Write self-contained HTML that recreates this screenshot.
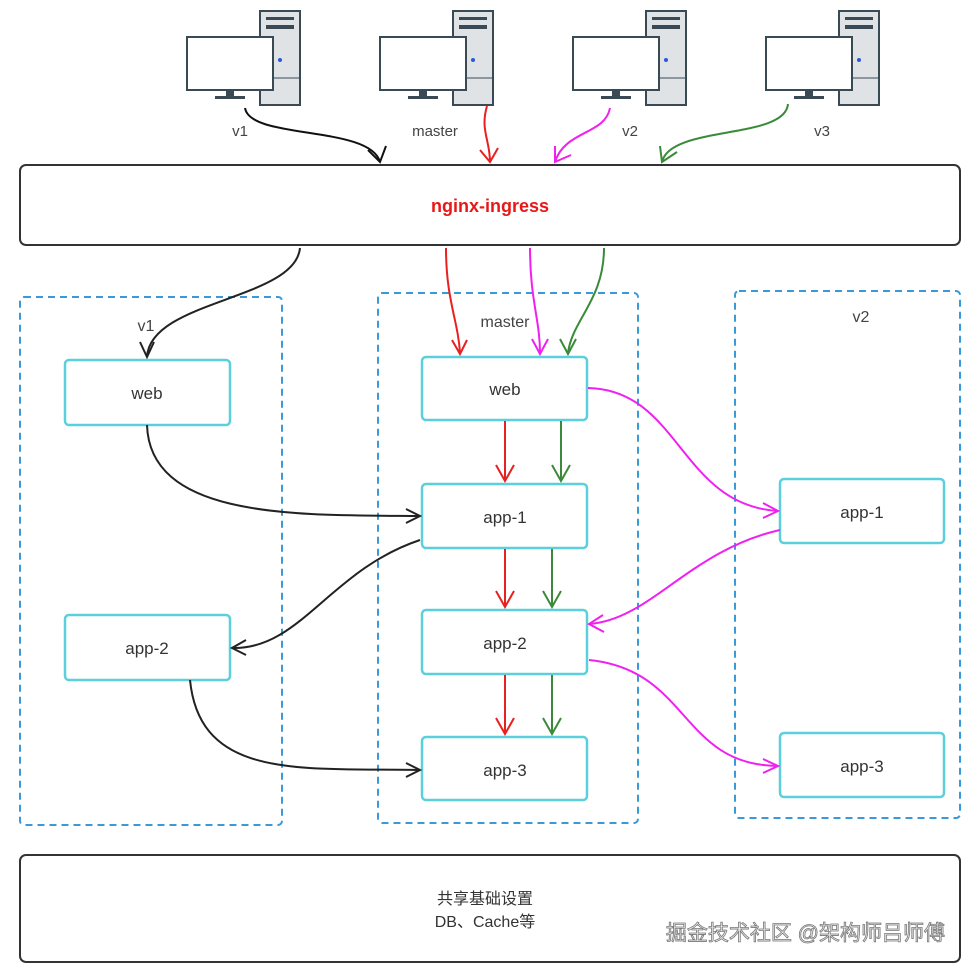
<!DOCTYPE html>
<html><head><meta charset="utf-8"><style>
html,body{margin:0;padding:0;background:#fff;}
svg{display:block;}
text{font-family:"Liberation Sans","Noto Sans CJK SC",sans-serif;}
</style></head><body>
<svg width="971" height="970" viewBox="0 0 971 970" xmlns="http://www.w3.org/2000/svg">
<defs>
<g id="pc">
 <rect x="73" y="11" width="40" height="94" fill="#dfe3e6" stroke="#3a4a55" stroke-width="2"/>
 <rect x="79" y="17" width="28" height="3" fill="#3a4a55"/>
 <rect x="79" y="25" width="28" height="4" fill="#3a4a55"/>
 <line x1="74" y1="78" x2="112" y2="78" stroke="#3a4a55" stroke-width="1"/>
 <circle cx="93" cy="60" r="2" fill="#2a5bd7"/>
 <rect x="0" y="37" width="86" height="53" fill="#fff" stroke="#3a4a55" stroke-width="2"/>
 <rect x="39" y="90" width="8" height="6" fill="#3a4a55"/>
 <rect x="28" y="96" width="30" height="3" fill="#3a4a55"/>
</g>
</defs>
<use href="#pc" x="187" y="0"/>
<use href="#pc" x="380" y="0"/>
<use href="#pc" x="573" y="0"/>
<use href="#pc" x="766" y="0"/>
<g font-size="15" fill="#444" text-anchor="middle">
<text x="240" y="136">v1</text><text x="435" y="136">master</text>
<text x="630" y="136">v2</text><text x="822" y="136">v3</text>
</g>
<g fill="none" stroke-width="2">
<path d="M245,108 C250,140 370,125 380,162" stroke="#111"/>
<polyline points="368,150 380,162 386,146" stroke="#111"/>
<path d="M487,106 C480,130 490,140 490,162" stroke="#e82020"/>
<polyline points="480,150 490,162 498,148" stroke="#e82020"/>
<path d="M610,108 C605,135 565,130 555,162" stroke="#f020f0"/>
<polyline points="555,146 555,162 571,155" stroke="#f020f0"/>
<path d="M788,104 C785,140 670,125 662,162" stroke="#3a8a3a"/>
<polyline points="660,146 662,162 677,152" stroke="#3a8a3a"/>
</g>
<rect x="20" y="165" width="940" height="80" rx="6" fill="#fff" stroke="#333" stroke-width="2"/>
<text x="490" y="212" text-anchor="middle" font-size="18" font-weight="bold" fill="#e81818">nginx-ingress</text>
<g fill="none" stroke="#3a9ad9" stroke-width="2" stroke-dasharray="7,5">
<rect x="20" y="297" width="262" height="528" rx="4"/>
<rect x="378" y="293" width="260" height="530" rx="4"/>
<rect x="735" y="291" width="225" height="527" rx="4"/>
</g>
<g font-size="16" fill="#444" text-anchor="middle">
<text x="146" y="331">v1</text><text x="505" y="327">master</text><text x="861" y="322">v2</text>
</g>
<g fill="#fff" stroke="#5bd0dc" stroke-width="2.5">
<rect x="65" y="360" width="165" height="65" rx="4"/>
<rect x="65" y="615" width="165" height="65" rx="4"/>
<rect x="422" y="357" width="165" height="63" rx="4"/>
<rect x="422" y="484" width="165" height="64" rx="4"/>
<rect x="422" y="610" width="165" height="64" rx="4"/>
<rect x="422" y="737" width="165" height="63" rx="4"/>
<rect x="780" y="479" width="164" height="64" rx="4"/>
<rect x="780" y="733" width="164" height="64" rx="4"/>
</g>
<g font-size="17" fill="#333" text-anchor="middle">
<text x="147" y="399">web</text><text x="147" y="654">app-2</text>
<text x="505" y="395">web</text><text x="505" y="523">app-1</text>
<text x="505" y="649">app-2</text><text x="505" y="776">app-3</text>
<text x="862" y="518">app-1</text><text x="862" y="772">app-3</text>
</g>
<g fill="none" stroke-width="2">
<g stroke="#222">
<path d="M300,248 C295,300 150,300 147,357"/><polyline points="140,342 147,357 154,342"/>
<path d="M147,425 C150,520 300,515 420,516"/><polyline points="406,509 420,516 406,523"/>
<path d="M420,540 C330,570 300,650 232,648"/><polyline points="246,640 232,648 246,655"/>
<path d="M190,680 C200,780 300,768 420,770"/><polyline points="406,763 420,770 406,777"/>
</g>
<g stroke="#e82020">
<path d="M446,248 C446,300 458,320 460,353"/><polyline points="452,340 460,354 467,340"/>
<line x1="505" y1="421" x2="505" y2="481"/><polyline points="496,465 505,481 514,465"/>
<line x1="505" y1="549" x2="505" y2="607"/><polyline points="496,591 505,607 514,591"/>
<line x1="505" y1="675" x2="505" y2="734"/><polyline points="496,718 505,734 514,718"/>
</g>
<g stroke="#3a8a3a">
<path d="M604,248 C604,300 572,320 568,353"/><polyline points="560,339 568,354 576,339"/>
<line x1="561" y1="421" x2="561" y2="481"/><polyline points="552,465 561,481 570,465"/>
<line x1="552" y1="549" x2="552" y2="607"/><polyline points="543,591 552,607 561,591"/>
<line x1="552" y1="675" x2="552" y2="734"/><polyline points="543,718 552,734 561,718"/>
</g>
<g stroke="#f020f0">
<path d="M530,248 C530,300 540,320 540,353"/><polyline points="532,339 540,354 548,339"/>
<path d="M588,388 C680,390 680,505 778,511"/><polyline points="763,503 778,511 763,518"/>
<path d="M780,530 C690,550 650,620 589,624"/><polyline points="603,615 589,624 604,632"/>
<path d="M589,660 C690,670 680,765 778,766"/><polyline points="763,759 778,766 763,773"/>
</g>
</g>
<rect x="20" y="855" width="940" height="107" rx="6" fill="#fff" stroke="#333" stroke-width="2"/>
<g font-size="16" fill="#333" text-anchor="middle">
<text x="485" y="904">共享基础设置</text>
<text x="485" y="927">DB、Cache等</text>
</g>
<text x="945" y="940" text-anchor="end" font-size="21" fill="#eee" stroke="#777" stroke-width="0.8">掘金技术社区 @架构师吕师傅</text>
</svg>
</body></html>
